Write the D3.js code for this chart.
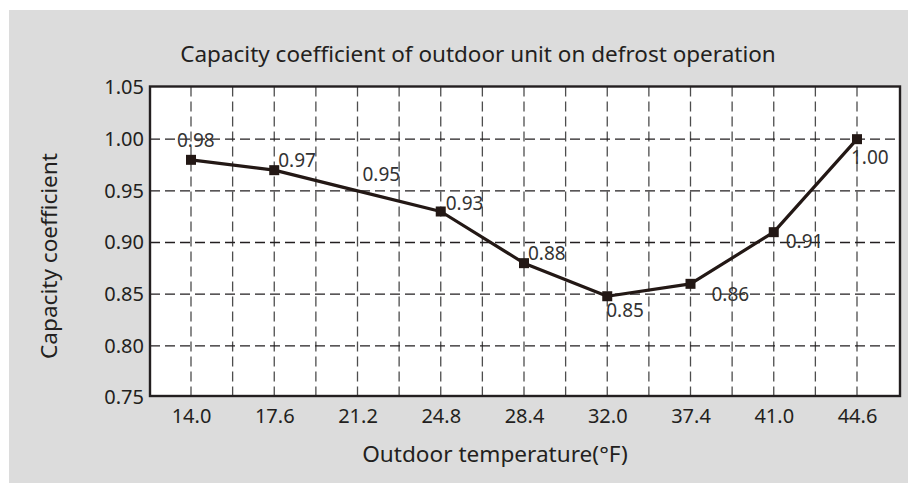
<!DOCTYPE html>
<html>
<head>
<meta charset="utf-8">
<script src="https://cdn.jsdelivr.net/npm/d3@7"></script>
<style>
	body { margin: 0; background: #fff; }
	svg { display: block; font-family: "Noto Sans", sans-serif; }
</style>
</head>
<body>
<div id="graphDIV"></div>
<script>
const temperatures = ["14.0", "17.6", "21.2", "24.8", "28.4", "32.0", "37.4", "41.0", "44.6"];
const coefficients = [0.98, 0.97, 0.95, 0.93, 0.88, 0.848, 0.86, 0.91, 1.00];
const valueLabels = ["0.98", "0.97", "0.95", "0.93", "0.88", "0.85", "0.86", "0.91", "1.00"];
const unmarked = ["21.2"]; // 21.2 has a label but no square
const yTicks = [0.75, 0.80, 0.85, 0.90, 0.95, 1.00, 1.05];
const titleText = "Capacity coefficient of outdoor unit on defrost operation";
const xTitle = "Outdoor temperature(°F)";
const yTitle = "Capacity coefficient";

// where each value label sits, relative to its point
const labelOffsets = [[-14, -13], [4, -3], [5, -10], [5, -2], [4, -3], [-1, 21], [21, 17], [12, 16], [-6, 25]];

const svgWidth = 908;
const svgHeight = 483;
const plot = { left: 150, right: 900, top: 86.5, bottom: 396 };
const ink = "#231f20";

const graphData = temperatures.map((t, i) => ({ t: t, v: coefficients[i], label: valueLabels[i] }));

const svg = d3
	.select("#graphDIV")
	.append("svg")
	.attr("width", svgWidth)
	.attr("height", svgHeight);

// grey panel
svg.append("rect")
	.attr("x", 9)
	.attr("y", 10)
	.attr("width", svgWidth - 9)
	.attr("height", svgHeight - 10)
	.attr("fill", "#dcdcdc");

svg.append("rect")
	.attr("x", plot.left)
	.attr("y", plot.top)
	.attr("width", plot.right - plot.left)
	.attr("height", plot.bottom - plot.top)
	.attr("fill", "#fff");

const xScale = d3
	.scalePoint()
	.domain(temperatures)
	.range([191, 857]);

const yScale = d3
	.scaleLinear()
	.domain([0.75, 1.05])
	.range([397.5, 87.5]);

// vertical grid: on every category and half way between
const gridX = [];
temperatures.forEach((t, i) => {
	if (i > 0) gridX.push((xScale(temperatures[i - 1]) + xScale(t)) / 2);
	gridX.push(xScale(t));
});

svg.append("g")
	.selectAll("line")
	.data(gridX)
	.enter()
	.append("line")
	.attr("x1", (d) => d)
	.attr("x2", (d) => d)
	.attr("y1", plot.top)
	.attr("y2", plot.bottom)
	.attr("stroke", "#4d4d4d")
	.attr("stroke-width", 1.3)
	.attr("stroke-dasharray", "10,5");

svg.append("g")
	.selectAll("line")
	.data(yTicks.slice(1, -1))
	.enter()
	.append("line")
	.attr("x1", plot.left)
	.attr("x2", plot.right)
	.attr("y1", (d) => yScale(d))
	.attr("y2", (d) => yScale(d))
	.attr("stroke", ink)
	.attr("stroke-width", 1.3)
	.attr("stroke-dasharray", "10,5");

// frame
svg.append("rect")
	.attr("x", plot.left)
	.attr("y", plot.top)
	.attr("width", plot.right - plot.left)
	.attr("height", plot.bottom - plot.top)
	.attr("fill", "none")
	.attr("stroke", ink)
	.attr("stroke-width", 2.4);

const line = d3
	.line()
	.x((d) => xScale(d.t))
	.y((d) => yScale(d.v));

svg.append("path")
	.datum(graphData)
	.attr("d", line)
	.attr("fill", "none")
	.attr("stroke", "#231815")
	.attr("stroke-width", 3.2)
	.attr("stroke-linejoin", "round");

svg.append("g")
	.selectAll("rect")
	.data(graphData.filter((d) => !unmarked.includes(d.t)))
	.enter()
	.append("rect")
	.attr("x", (d) => xScale(d.t) - 5)
	.attr("y", (d) => yScale(d.v) - 5)
	.attr("width", 10)
	.attr("height", 10)
	.attr("fill", "#231815");

svg.append("g")
	.selectAll("text")
	.data(graphData)
	.enter()
	.append("text")
	.attr("x", (d, i) => xScale(d.t) + labelOffsets[i][0])
	.attr("y", (d, i) => yScale(d.v) + labelOffsets[i][1])
	.attr("font-size", 19)
	.attr("fill", "#333")
	.text((d) => d.label);

// axes, no tick marks
const yAxis = svg.append("g")
	.attr("transform", `translate(${plot.left}, 0)`)
	.call(d3.axisLeft(yScale).tickValues(yTicks).tickFormat(d3.format(".2f")).tickSize(0).tickPadding(6));

const xAxis = svg.append("g")
	.attr("transform", `translate(0, ${plot.bottom})`)
	.call(d3.axisBottom(xScale).tickSize(0).tickPadding(13));

[yAxis, xAxis].forEach((g) => {
	g.select(".domain").remove();
	g.attr("font-family", null).attr("font-size", 20);
	g.selectAll("text").attr("fill", ink);
});

svg.append("text")
	.attr("x", 478)
	.attr("y", 62)
	.attr("text-anchor", "middle")
	.attr("font-size", 22.5)
	.attr("fill", ink)
	.text(titleText);

svg.append("text")
	.attr("x", 495)
	.attr("y", 462)
	.attr("text-anchor", "middle")
	.attr("font-size", 22.6)
	.attr("fill", ink)
	.text(xTitle);

svg.append("text")
	.attr("transform", "translate(57, 256) rotate(-90)")
	.attr("text-anchor", "middle")
	.attr("font-size", 22.6)
	.attr("fill", ink)
	.text(yTitle);
</script>
</body>
</html>
